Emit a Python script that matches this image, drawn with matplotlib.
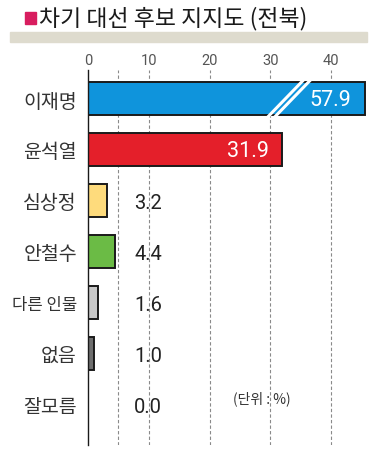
import numpy as np
import matplotlib.pyplot as plt
from matplotlib.patches import Rectangle

plt.rcParams['font.family'] = ['Noto Sans CJK KR', 'DejaVu Sans']

candidates = ['이재명', '윤석열', '심상정', '안철수', '다른 인물', '없음', '잘모름']
support = [57.9, 31.9, 3.2, 4.4, 1.6, 1.0, 0.0]
bar_colors = ['#0f94dc', '#e41f2a', '#fedb7c', '#6bbb45', '#c8c8c8', '#6e6e6e', '#6e6e6e']
ticks = [0, 10, 20, 30, 40]
grid_lines = [5, 10, 20, 30, 40]
title = '차기 대선 후보 지지도 (전북)'
unit_note = '(단위 : %)'

cap = 45.5      # longest bar is drawn broken at this length
xmax = 46.5

fig = plt.figure(figsize=(3.84, 4.56), dpi=100)
W, H = 384, 456
left, right, top, bottom = 88, 88 + xmax * 6.08, 71, 446
ax = fig.add_axes([left / W, 1 - bottom / H, (right - left) / W, (bottom - top) / H])

# title block
fig.patches.append(Rectangle((25 / W, 1 - 25 / H), 11 / W, 12 / H, transform=fig.transFigure,
                             color='#d81d5f', zorder=5))
fig.text(39 / W, 1 - 19 / H, title, fontsize=16.5, fontweight='medium', color='#1a1a1a',
         va='center', ha='left')
fig.patches.append(Rectangle((10 / W, 1 - 43 / H), 357 / W, 10 / H, transform=fig.transFigure,
                             color='#dedbce', zorder=1))

y = np.arange(len(candidates))
drawn = [min(v, cap) for v in support]

for g in grid_lines:
    ax.axvline(g, color='#8a8a8a', lw=0.8, ls=(0, (3, 2)), zorder=0)

ax.barh(y, drawn, height=0.65, color=bar_colors, edgecolor='#1a1a1a', linewidth=1.4, zorder=2)

# break marks on the capped bar
for i, v in enumerate(support):
    if v > cap:
        for off in (0, 1.15):
            x0 = cap - 16.0 + off
            ax.plot([x0, x0 + 6.0], [i + 0.37, i - 0.37], color='white', lw=2.2,
                    solid_capstyle='butt', zorder=3, clip_on=False)

# value labels
for i, v in enumerate(support):
    if v > 20:
        ax.text(min(v, cap) - 2.2, i + 0.02, f'{v:.1f}', color='white', fontsize=15.5,
                ha='right', va='center', family=['Roboto', 'DejaVu Sans'], zorder=4)
    else:
        ax.text(9.9, i + 0.05, f'{v:.1f}', color='#222222', fontsize=14.5,
                ha='center', va='center', family=['Roboto', 'DejaVu Sans'], zorder=4)

ax.text(23.8, 5.88, unit_note, fontsize=10, color='#333333', ha='left', va='center')

ax.set_xlim(0, xmax)
ax.set_ylim(6.8, -0.56)
ax.xaxis.tick_top()
ax.set_xticks(ticks)
ax.set_xticklabels([str(t) for t in ticks], fontsize=10.5, color='#555555',
                   family=['Roboto', 'DejaVu Sans'])
ax.set_yticks(y)
ax.set_yticklabels(candidates, fontsize=14, color='#333333')
ax.get_yticklabels()[4].set_fontsize(12)
ax.tick_params(axis='x', length=0, pad=2)
ax.tick_params(axis='y', length=0, pad=8)
for s in ['top', 'right', 'bottom']:
    ax.spines[s].set_visible(False)
ax.spines['left'].set_color('#1a1a1a')
ax.spines['left'].set_linewidth(1.0)

fig.savefig('out.png', dpi=100)
